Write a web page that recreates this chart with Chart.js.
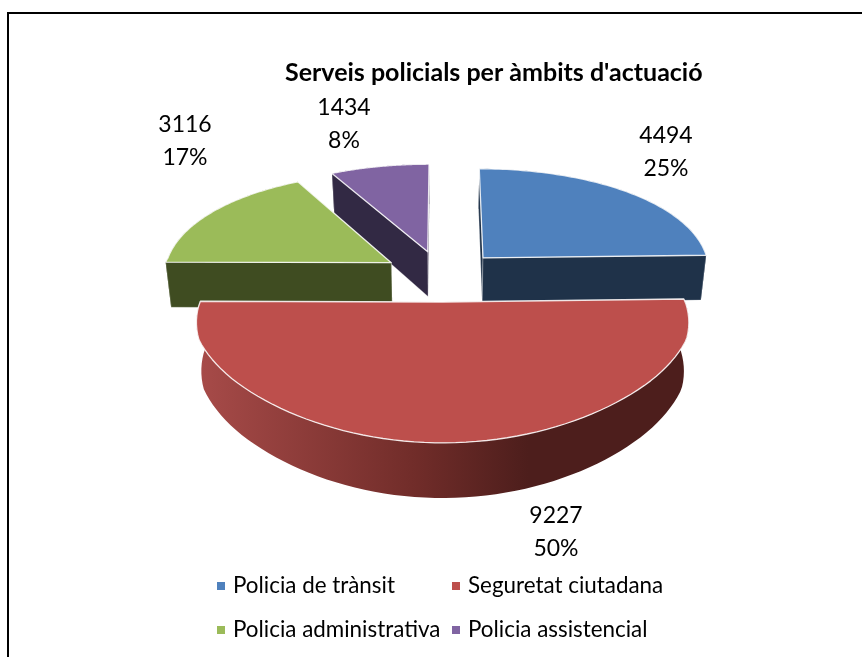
<!DOCTYPE html>
<html>
<head>
<meta charset="utf-8">
<title>Serveis policials</title>
<script src="https://cdn.jsdelivr.net/npm/chart.js@4"></script>
<style>
  html, body { margin: 0; padding: 0; background: #fff; overflow: hidden; }
  #frame { position: absolute; left: 7px; top: 12px; width: 855px; height: 645px; border-left: 2px solid #000; border-top: 2px solid #000; box-sizing: border-box; }
  #c { position: absolute; left: 0; top: 0; }
</style>
</head>
<body>
<div id="frame"></div>
<canvas id="c" width="862" height="657"></canvas>
<script>
// dades
var categories = ['Policia de trànsit', 'Seguretat ciutadana', 'Policia administrativa', 'Policia assistencial'];
var values = [4494, 9227, 3116, 1434];
var percents = ['25%', '50%', '17%', '8%'];
var chartTitle = "Serveis policials per àmbits d'actuació";

// colors
var topColors = ['#4f81bd', '#bd4f4c', '#9bbb59', '#8064a2'];
var wallColors = ['#1f3249', '#4d1e1c', '#3f4c21', '#322944'];

// layout of the text around the pie
var labelCenters = [[666, 136], [556, 516], [185, 125], [344, 108]];
var legendSpots = [[217, 586], [452, 586], [217, 630], [452, 630]];
var FONT = 'Lato, "Noto Sans", sans-serif';

// the pie is seen in perspective, so unit disc coords go to the screen here
var EXPLODE = 0.234;
var CX = 442;
// half width of the disc against screen y, measured on the rim
var widthStops = [[160, 202], [175, 205], [258, 224], [303, 243], [340, 256], [380, 261], [420, 263], [500, 264]];

function screenY(Y) {
  return 4200 / (6.217 - Y) - 400;
}
function widthAt(y) {
  for (var i = 1; i < widthStops.length; i++) {
    if (y <= widthStops[i][0]) {
      var a = widthStops[i - 1], b = widthStops[i];
      return a[1] + (b[1] - a[1]) * (y - a[0]) / (b[0] - a[0]);
    }
  }
  return widthStops[widthStops.length - 1][1];
}
function project(X, Y) {
  var y = screenY(Y);
  return { x: CX + X * widthAt(y), y: y };
}
function drop(p) {
  // lower side of the disc, a bit deeper when closer to viewer
  return { x: CX + (p.x - CX) * 0.98, y: p.y + 45 + 0.055 * (p.y - 258) };
}

function tracePath(ctx, pts) {
  ctx.beginPath();
  pts.forEach(function(p, i) {
    if (i == 0) ctx.moveTo(p.x, p.y); else ctx.lineTo(p.x, p.y);
  });
  ctx.closePath();
}

function drawSlice(ctx, el, i) {
  var props = el.getProps(['startAngle', 'endAngle']);
  var a0 = props.startAngle, a1 = props.endAngle;
  var mid = (a0 + a1) / 2;
  var ox = Math.cos(mid) * EXPLODE * 1.12, oy = Math.sin(mid) * EXPLODE;
  var rim = [];
  var n = 80;
  for (var k = 0; k <= n; k++) {
    var a = a0 + (a1 - a0) * k / n;
    rim.push(project(ox + Math.cos(a), oy + Math.sin(a)));
  }
  var apex = project(ox, oy);

  // outer wall
  var wall = rim.concat(rim.map(drop).reverse());
  tracePath(ctx, wall);
  if (i == 1) {
    var g = ctx.createLinearGradient(203, 0, 681, 0);
    g.addColorStop(0, '#a64a48');
    g.addColorStop(0.45, '#702c29');
    g.addColorStop(0.68, '#4d1e1c');
    g.addColorStop(1, '#4d1e1c');
    ctx.fillStyle = g;
  } else {
    ctx.fillStyle = wallColors[i];
  }
  ctx.fill();

  // cut faces, the one further back first
  var cuts = rim[0].y < rim[n].y ? [rim[0], rim[n]] : [rim[n], rim[0]];
  cuts.forEach(function(p) {
    tracePath(ctx, [apex, p, drop(p), drop(apex)]);
    ctx.fillStyle = wallColors[i];
    ctx.fill();
    ctx.strokeStyle = 'rgba(255,255,255,0.35)';
    ctx.lineWidth = 0.8;
    ctx.stroke();
  });

  // top
  tracePath(ctx, [apex].concat(rim));
  ctx.fillStyle = topColors[i];
  ctx.fill();
  ctx.strokeStyle = 'rgba(255,255,255,0.85)';
  ctx.lineWidth = 1.3;
  ctx.stroke();
}

var pie3d = {
  id: 'pie3d',
  beforeDatasetDraw: function(chart, args) {
    var ctx = chart.ctx;
    var arcs = args.meta.data;
    ctx.save();
    ctx.lineJoin = 'round';
    // back to front
    [3, 2, 0, 1].forEach(function(i) {
      drawSlice(ctx, arcs[i], i);
    });
    ctx.restore();
    return false;
  },
  afterDraw: function(chart) {
    var ctx = chart.ctx;
    ctx.save();
    ctx.fillStyle = '#000';
    ctx.textBaseline = 'middle';
    ctx.font = '23px ' + FONT;
    ctx.textAlign = 'center';
    values.forEach(function(v, i) {
      ctx.fillText(String(v), labelCenters[i][0], labelCenters[i][1]);
      ctx.fillText(percents[i], labelCenters[i][0], labelCenters[i][1] + 33);
    });
    ctx.textAlign = 'left';
    ctx.font = '22.4px ' + FONT;
    categories.forEach(function(name, i) {
      var s = legendSpots[i];
      ctx.fillStyle = topColors[i];
      ctx.fillRect(s[0], s[1] - 4, 8, 8);
      ctx.fillStyle = '#000';
      ctx.fillText(name, s[0] + 16, s[1]);
    });
    ctx.restore();
  }
};

new Chart(document.getElementById('c'), {
  type: 'pie',
  data: {
    labels: categories,
    datasets: [{ data: values, backgroundColor: topColors, borderWidth: 0 }]
  },
  options: {
    responsive: false,
    animation: false,
    layout: { padding: { left: 285, top: 58 } },
    plugins: {
      legend: { display: false },
      tooltip: { enabled: false },
      title: {
        display: true,
        text: chartTitle,
        align: 'start',
        color: '#000',
        padding: 0,
        font: { family: FONT, size: 25, weight: 'bold' }
      }
    }
  },
  plugins: [pie3d]
});
</script>
</body>
</html>
